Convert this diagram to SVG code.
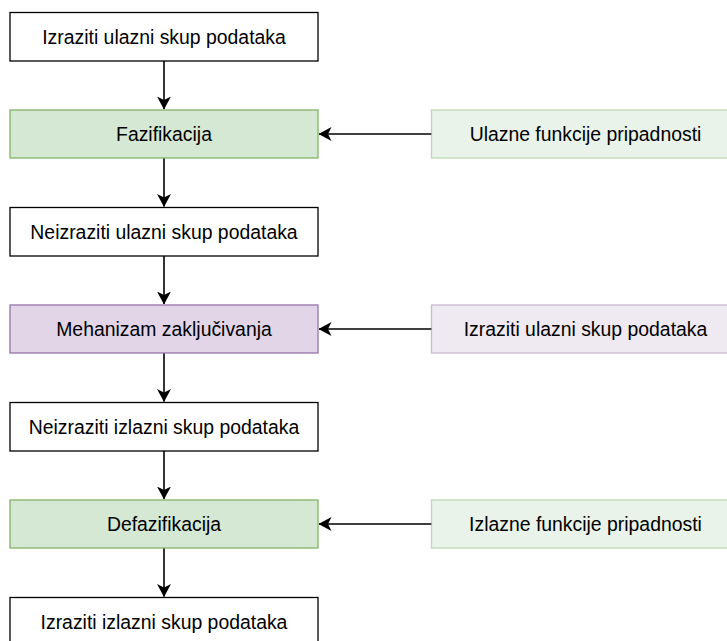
<svg xmlns="http://www.w3.org/2000/svg" width="727" height="641" viewBox="0 0 727 641">
<defs>
<style>
.box{stroke-width:1.3}
.plain{fill:#ffffff;stroke:#000000}
.green{fill:#d5e8d4;stroke:#82b366}
.purple{fill:#e1d5e7;stroke:#9673a6}
.faint{opacity:0.5}
.lbl{font-family:"Liberation Sans",Arial,sans-serif;font-size:19.4px;fill:#000000;text-anchor:middle}
.edge{stroke:#000000;stroke-width:1.6;fill:none;marker-end:url(#arr)}
</style>
<marker id="arr" viewBox="0 0 13 14" refX="12.5" refY="7" markerWidth="13" markerHeight="14" markerUnits="userSpaceOnUse" orient="auto">
<path d="M0,0 L13,7 L0,14 L3.5,7 Z" fill="#000000"/>
</marker>
</defs>
<rect width="727" height="641" fill="#ffffff"/>
<g id="connectors">
<line class="edge" x1="164" y1="61" x2="164" y2="109"/>
<line class="edge" x1="164" y1="158" x2="164" y2="206.5"/>
<line class="edge" x1="164" y1="256" x2="164" y2="304"/>
<line class="edge" x1="164" y1="353" x2="164" y2="401.5"/>
<line class="edge" x1="164" y1="451" x2="164" y2="499"/>
<line class="edge" x1="164" y1="548" x2="164" y2="596.5"/>
<line class="edge" x1="431.5" y1="134" x2="319" y2="134"/>
<line class="edge" x1="431.5" y1="329" x2="319" y2="329"/>
<line class="edge" x1="431.5" y1="524" x2="319" y2="524"/>
</g>
<g id="n1"><rect class="box plain" x="10" y="12.5" width="308" height="48.5"/><text class="lbl" x="164" y="43.5">Izraziti ulazni skup podataka</text></g>
<g id="n2"><rect class="box green" x="10" y="110" width="308" height="48"/><text class="lbl" x="164" y="140.5">Fazifikacija</text></g>
<g id="n3"><rect class="box plain" x="10" y="207.5" width="308" height="48.5"/><text class="lbl" x="164" y="238.5">Neizraziti ulazni skup podataka</text></g>
<g id="n4"><rect class="box purple" x="10" y="305" width="308" height="48"/><text class="lbl" x="164" y="335.5">Mehanizam zaključivanja</text></g>
<g id="n5"><rect class="box plain" x="10" y="402.5" width="308" height="48.5"/><text class="lbl" x="164" y="433.5">Neizraziti izlazni skup podataka</text></g>
<g id="n6"><rect class="box green" x="10" y="500" width="308" height="48"/><text class="lbl" x="164" y="530.5">Defazifikacija</text></g>
<g id="n7"><rect class="box plain" x="10" y="597.5" width="308" height="48.5"/><text class="lbl" x="164" y="628.5">Izraziti izlazni skup podataka</text></g>
<g id="r1"><rect class="box green faint" x="431.5" y="110" width="308" height="48"/><text class="lbl" x="585.5" y="140.5">Ulazne funkcije pripadnosti</text></g>
<g id="r2"><rect class="box purple faint" x="431.5" y="305" width="308" height="48"/><text class="lbl" x="585.5" y="335.5">Izraziti ulazni skup podataka</text></g>
<g id="r3"><rect class="box green faint" x="431.5" y="500" width="308" height="48"/><text class="lbl" x="585.5" y="530.5">Izlazne funkcije pripadnosti</text></g>
</svg>
